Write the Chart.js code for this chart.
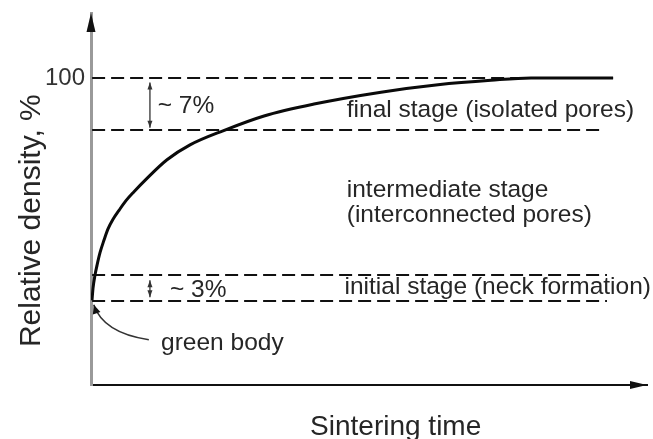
<!DOCTYPE html>
<html><head><meta charset="utf-8">
<script src="https://cdn.jsdelivr.net/npm/chart.js@4/dist/chart.umd.min.js"></script>
<style>html,body{margin:0;padding:0;background:#fff;}canvas{display:block;}</style>
</head><body>
<canvas id="c" width="653" height="439"></canvas>
<script>
// Densification curve (schematic): sintering time (arb. units) vs relative density (%)
const sinteringTime   = [0.18, 0.36, 0.72, 1.08, 1.62, 2.34, 3.06, 3.96, 5.04, 6.29, 7.73, 10.07, 13.67, 17.81, 23.74, 31.12, 40.11, 52.16, 62.41, 71.94, 79.14, 93.9];
const relativeDensity = [70.1, 71.7, 73.5, 74.8, 76.5, 78.2, 79.7, 81.0, 82.2, 83.5, 84.7, 86.5, 89.0, 91.0, 92.9, 94.9, 96.5, 98.1, 99.1, 99.7, 100, 100];

// Stage boundary lines (dashed)
const boundaryDensity = [100, 93, 73.5, 70];
const boundaryFrom    = [0.2, 0.2, 0.2, 0.2];
const boundaryTo      = [93.9, 92.4, 92.8, 92.8];

// Axis
const yTickValues = [100];
const yTickLabels = ['100'];
const xAxisTitle = 'Sintering time';
const yAxisTitle = 'Relative density, %';

// Annotations (text and anchor in data units)
const noteTexts = ['~ 7%', '~ 3%', 'green body', 'final stage (isolated pores)', 'intermediate stage', '(interconnected pores)', 'initial stage (neck formation)'];
const noteTime    = [12.0, 14.2, 12.6, 46.0, 46.0, 46.0, 45.6];
const noteDensity = [95.3, 70.6, 63.4, 94.75, 84.0, 80.6, 70.9];

// Range arrows ("~7%", "~3%")
const rangeTime = [10.6, 10.6];
const rangeFrom = [99.4, 72.8];
const rangeTo   = [93.3, 70.5];

// green body pointer (start, control, end)
const pointerTime    = [10.4, 2.2, 0.5];
const pointerDensity = [64.8, 65.7, 69.5];

const FONT = '"Liberation Sans", Arial, Helvetica, sans-serif';
const TEXT = '#262626';

const datasets = [{
  data: sinteringTime.map((t, i) => ({x: t, y: relativeDensity[i]})),
  borderColor: '#0a0a0a', borderWidth: 3, pointRadius: 0,
  cubicInterpolationMode: 'monotone', fill: false, order: 0
}];
boundaryDensity.forEach((d, i) => {
  datasets.push({
    data: [{x: boundaryFrom[i], y: d}, {x: boundaryTo[i], y: d}],
    borderColor: '#111', borderWidth: 2, borderDash: [13, 6], pointRadius: 0, fill: false, order: 1
  });
});

function arrowHead(ctx, x, y, ang, len, half) {
  ctx.beginPath();
  ctx.moveTo(x, y);
  ctx.lineTo(x - len * Math.cos(ang) + half * Math.sin(ang), y - len * Math.sin(ang) - half * Math.cos(ang));
  ctx.lineTo(x - len * Math.cos(ang) - half * Math.sin(ang), y - len * Math.sin(ang) + half * Math.cos(ang));
  ctx.closePath();
  ctx.fill();
}

const decor = {
  id: 'decor',
  afterDraw(chart) {
    const {ctx, chartArea: a, scales: {x, y}} = chart;
    ctx.save();
    // axis arrowheads
    ctx.fillStyle = '#111';
    arrowHead(ctx, a.left, a.top, -Math.PI / 2, 19, 4.5);
    arrowHead(ctx, a.right, a.bottom, 0, 17, 4);
    // range arrows
    ctx.strokeStyle = '#333'; ctx.fillStyle = '#333'; ctx.lineWidth = 1.3;
    rangeTime.forEach((t, i) => {
      const px = x.getPixelForValue(t);
      const p1 = y.getPixelForValue(rangeFrom[i]);
      const p2 = y.getPixelForValue(rangeTo[i]);
      ctx.beginPath(); ctx.moveTo(px, p1); ctx.lineTo(px, p2); ctx.stroke();
      arrowHead(ctx, px, p1, -Math.PI / 2, 7, 2.5);
      arrowHead(ctx, px, p2, Math.PI / 2, 7, 2.5);
    });
    // green body pointer
    const gp = pointerTime.map((t, i) => [x.getPixelForValue(t), y.getPixelForValue(pointerDensity[i])]);
    ctx.strokeStyle = '#333'; ctx.lineWidth = 1.5;
    ctx.beginPath(); ctx.moveTo(gp[0][0], gp[0][1]);
    ctx.quadraticCurveTo(gp[1][0], gp[1][1], gp[2][0], gp[2][1]); ctx.stroke();
    ctx.fillStyle = '#111';
    arrowHead(ctx, gp[2][0], gp[2][1], Math.atan2(gp[2][1] - gp[1][1], gp[2][0] - gp[1][0]), 9, 4);
    // annotation texts
    ctx.fillStyle = TEXT; ctx.textAlign = 'left'; ctx.textBaseline = 'alphabetic';
    ctx.font = '24.5px ' + FONT;
    noteTexts.forEach((s, i) => ctx.fillText(s, x.getPixelForValue(noteTime[i]), y.getPixelForValue(noteDensity[i])));
    // axis titles
    ctx.font = '28px ' + FONT;
    ctx.fillText(xAxisTitle, x.getPixelForValue(39.4), x.bottom - 4);
    ctx.save();
    ctx.translate(y.left + 40, y.getPixelForValue(63.8));
    ctx.rotate(-Math.PI / 2);
    ctx.font = '30px ' + FONT;
    ctx.fillText(yAxisTitle, 0, 0);
    ctx.restore();
    ctx.restore();
  }
};

new Chart(document.getElementById('c'), {
  type: 'line',
  data: {datasets},
  options: {
    responsive: false, animation: false, devicePixelRatio: 1,
    layout: {padding: {top: 13, right: 6, left: 0, bottom: 0}},
    plugins: {legend: {display: false}, tooltip: {enabled: false}},
    scales: {
      x: {
        type: 'linear', min: 0, max: 100,
        grid: {display: false, drawTicks: false},
        ticks: {display: false},
        border: {display: true, color: '#111', width: 2},
        afterFit(s) { s.height = 54; s.paddingLeft = 0; s.paddingRight = 0; }
      },
      y: {
        type: 'linear', min: 58.7, max: 108.75,
        grid: {display: false, drawTicks: false},
        border: {display: true, color: '#9a9a9a', width: 3},
        afterBuildTicks(s) { s.ticks = yTickValues.map(v => ({value: v})); },
        ticks: {
          padding: 6, color: '#333', font: {family: FONT, size: 24},
          callback: (v) => yTickLabels[yTickValues.indexOf(v)]
        },
        afterFit(s) { s.width = 91; s.paddingTop = 0; s.paddingBottom = 0; }
      }
    }
  },
  plugins: [decor]
});
</script>
</body></html>
